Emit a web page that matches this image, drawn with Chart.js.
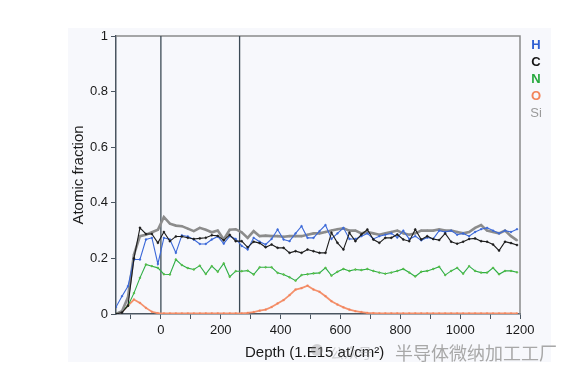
<!DOCTYPE html>
<html>
<head>
<meta charset="utf-8">
<script src="https://cdn.jsdelivr.net/npm/chart.js@4.4.1/dist/chart.umd.min.js"></script>
<style>
  html, body { margin: 0; padding: 0; background: #fff; }
  canvas { display: block; }
</style>
</head>
<body>
<canvas id="depthChart" width="564" height="376"></canvas>
<script>
// depth points (1.E15 at/cm2)
const depths = [-150, -130, -110, -90, -70, -50, -30, -10, 10, 30, 50, 70, 90, 110, 130, 150, 170, 190, 210, 230,
    250, 270, 290, 310, 330, 350, 370, 390, 410, 430, 450, 470, 490, 510, 530, 550, 570, 590, 610, 630,
    650, 670, 690, 710, 730, 750, 770, 790, 810, 830, 850, 870, 890, 910, 930, 950, 970, 990, 1010, 1030,
    1050, 1070, 1090, 1110, 1130, 1150, 1170, 1190];

const hData = [0.025, 0.064, 0.1, 0.196, 0.196, 0.268, 0.274, 0.18, 0.274, 0.268, 0.22, 0.283, 0.279, 0.268, 0.252, 0.252, 0.268, 0.279, 0.253, 0.28,
    0.27, 0.245, 0.232, 0.274, 0.26, 0.25, 0.27, 0.304, 0.268, 0.262, 0.29, 0.316, 0.274, 0.274, 0.298, 0.32, 0.27, 0.29, 0.31, 0.27,
    0.27, 0.28, 0.29, 0.27, 0.28, 0.285, 0.29, 0.275, 0.3, 0.27, 0.28, 0.265, 0.275, 0.27, 0.3, 0.295, 0.3, 0.285, 0.29, 0.28,
    0.295, 0.305, 0.31, 0.3, 0.29, 0.3, 0.295, 0.305];

const cData = [0, 0.005, 0.03, 0.2, 0.31, 0.288, 0.288, 0.256, 0.295, 0.262, 0.279, 0.279, 0.274, 0.27, 0.272, 0.274, 0.283, 0.281, 0.265, 0.285,
    0.262, 0.262, 0.24, 0.26, 0.255, 0.24, 0.25, 0.238, 0.238, 0.22, 0.226, 0.22, 0.232, 0.226, 0.22, 0.22, 0.292, 0.256, 0.232, 0.292,
    0.262, 0.286, 0.304, 0.268, 0.256, 0.274, 0.274, 0.286, 0.268, 0.262, 0.304, 0.268, 0.28, 0.27, 0.266, 0.29, 0.26, 0.253, 0.26, 0.27,
    0.272, 0.262, 0.26, 0.25, 0.228, 0.26, 0.255, 0.248];

const nData = [0.002, 0.01, 0.03, 0.075, 0.13, 0.178, 0.172, 0.166, 0.143, 0.142, 0.196, 0.176, 0.165, 0.16, 0.174, 0.144, 0.172, 0.152, 0.182, 0.134,
    0.154, 0.154, 0.156, 0.142, 0.168, 0.168, 0.168, 0.148, 0.142, 0.132, 0.12, 0.14, 0.143, 0.146, 0.148, 0.166, 0.138, 0.152, 0.162, 0.155,
    0.16, 0.158, 0.162, 0.155, 0.149, 0.145, 0.149, 0.155, 0.162, 0.149, 0.135, 0.152, 0.155, 0.162, 0.17, 0.14, 0.155, 0.166, 0.145, 0.172,
    0.155, 0.149, 0.149, 0.166, 0.143, 0.155, 0.155, 0.15];

const oData = [0, 0.008, 0.03, 0.052, 0.04, 0.022, 0.008, 0.003, 0.002, 0.002, 0.002, 0.002, 0.002, 0.002, 0.002, 0.002, 0.002, 0.002, 0.002, 0.002,
    0.002, 0.002, 0.004, 0.007, 0.012, 0.016, 0.025, 0.038, 0.05, 0.068, 0.088, 0.093, 0.102, 0.088, 0.08, 0.064, 0.046, 0.034, 0.024, 0.016,
    0.01, 0.007, 0.004, 0.003, 0.002, 0.002, 0.002, 0.002, 0.002, 0.002, 0.002, 0.002, 0.002, 0.002, 0.002, 0.002, 0.002, 0.002, 0.002, 0.002,
    0.002, 0.002, 0.002, 0.002, 0.002, 0.002, 0.002, 0.002];

const siData = [0, 0.01, 0.06, 0.214, 0.28, 0.285, 0.294, 0.303, 0.349, 0.325, 0.318, 0.316, 0.307, 0.298, 0.31, 0.303, 0.294, 0.3, 0.268, 0.303,
    0.305, 0.294, 0.274, 0.298, 0.28, 0.282, 0.28, 0.28, 0.278, 0.28, 0.28, 0.28, 0.285, 0.29, 0.29, 0.295, 0.3, 0.305, 0.308, 0.3,
    0.3, 0.29, 0.295, 0.29, 0.285, 0.29, 0.295, 0.3, 0.29, 0.285, 0.29, 0.3, 0.3, 0.3, 0.305, 0.3, 0.3, 0.295, 0.29, 0.295,
    0.31, 0.32, 0.3, 0.295, 0.29, 0.3, 0.28, 0.265];

const xTicks = [-100, 0, 100, 200, 300, 400, 500, 600, 700, 800, 900, 1000, 1100, 1200];
const boundaryDepths = [0, 263];

const legendItems = [
    { text: 'H', color: '#2f5fd2', bold: true },
    { text: 'C', color: '#151515', bold: true },
    { text: 'N', color: '#25a83c', bold: true },
    { text: 'O', color: '#f2845a', bold: true },
    { text: 'Si', color: '#9a9a9a', bold: false }
];

const FONT = '"Liberation Sans", Arial, sans-serif';

function series(values) {
    return depths.map((d, i) => ({ x: d, y: values[i] }));
}

const decor = {
    id: 'decor',
    beforeDraw(chart) {
        const c = chart.ctx;
        c.save();
        c.fillStyle = '#f7f8fc';
        c.fillRect(68, 28, 483, 334);
        c.restore();
    },
    beforeDatasetsDraw(chart) {
        const c = chart.ctx;
        const area = chart.chartArea;
        c.save();
        c.strokeStyle = '#8a8a8a';
        c.lineWidth = 1.5;
        c.beginPath();
        c.moveTo(area.left, area.top);
        c.lineTo(area.right, area.top);
        c.lineTo(area.right, area.bottom);
        c.stroke();
        c.strokeStyle = '#3c4a55';
        c.lineWidth = 1.3;
        boundaryDepths.forEach(d => {
            const x = chart.scales.x.getPixelForValue(d);
            c.beginPath();
            c.moveTo(x, area.top);
            c.lineTo(x, area.bottom);
            c.stroke();
        });
        c.restore();
    },
    afterDraw(chart) {
        const c = chart.ctx;
        const area = chart.chartArea;
        c.save();
        // y title
        c.fillStyle = '#1a1a1a';
        c.font = '15px ' + FONT;
        c.textAlign = 'center';
        c.textBaseline = 'middle';
        c.translate(79, (area.top + area.bottom) / 2);
        c.rotate(-Math.PI / 2);
        c.fillText('Atomic fraction', 0, 0);
        c.restore();

        c.save();
        c.fillStyle = '#1a1a1a';
        c.font = '15px ' + FONT;
        c.textAlign = 'left';
        c.textBaseline = 'middle';
        c.fillText('Depth (1.E15 at/cm²)', 245, 353);
        // watermark
        c.fillStyle = '#a8a8a8';
        c.font = '18px "Noto Sans CJK SC", sans-serif';
        c.fillText('半导体微纳加工工厂', 395, 353);
        c.globalAlpha = 0.35;
        c.fillStyle = '#888';
        c.beginPath();
        c.arc(317, 350, 6, 0, Math.PI * 2);
        c.fill();
        c.font = '14px "Noto Sans CJK SC", sans-serif';
        c.fillText('公众号', 330, 353);
        c.globalAlpha = 1;

        // legend letters
        c.textAlign = 'center';
        legendItems.forEach((item, i) => {
            c.fillStyle = item.color;
            c.font = (item.bold ? 'bold ' : '') + '13px ' + FONT;
            c.fillText(item.text, 536, 45 + i * 17);
        });
        c.restore();
    }
};

const config = {
    type: 'line',
    data: {
        datasets: [
            { label: 'H', data: series(hData), borderColor: '#3b68d8', backgroundColor: '#3b68d8', borderWidth: 1.1, pointRadius: 0.9, pointBorderWidth: 0.5, order: 1 },
            { label: 'C', data: series(cData), borderColor: '#1c1c1c', backgroundColor: '#1c1c1c', borderWidth: 1.1, pointRadius: 1, pointBorderWidth: 0.5, order: 0 },
            { label: 'N', data: series(nData), borderColor: '#2eae45', backgroundColor: '#7cc83a', borderWidth: 1.1, pointRadius: 0.9, pointBorderWidth: 0.5, order: 3 },
            { label: 'O', data: series(oData), borderColor: '#f4916c', backgroundColor: '#f07a50', borderWidth: 1.8, pointRadius: 1.1, pointBorderWidth: 0.5, pointStyle: 'rect', order: 4 },
            { label: 'Si', data: series(siData), borderColor: '#8c8c8c', backgroundColor: '#8c8c8c', borderWidth: 2.6, pointRadius: 0.8, pointBorderWidth: 0.5, order: 2 }
        ]
    },
    options: {
        responsive: false,
        animation: false,
        devicePixelRatio: 1,
        layout: { padding: { top: 36, right: 44, left: 0, bottom: 0 } },
        plugins: { legend: { display: false }, tooltip: { enabled: false } },
        scales: {
            x: {
                type: 'linear',
                min: -150,
                max: 1200,
                afterBuildTicks: scale => { scale.ticks = xTicks.map(v => ({ value: v })); },
                afterFit: scale => { scale.height = 62; },
                ticks: {
                    autoSkip: false,
                    maxRotation: 0,
                    padding: 4,
                    color: '#1a1a1a',
                    font: { family: FONT, size: 13 },
                    callback: v => (v >= 0 && v % 200 === 0 ? String(v) : '')
                },
                grid: { drawOnChartArea: false, tickLength: 5, color: '#4a5560', tickWidth: 1 },
                border: { color: '#4a5560', width: 1.5 }
            },
            y: {
                min: 0,
                max: 1,
                afterFit: scale => { scale.width = 116; },
                ticks: {
                    stepSize: 0.2,
                    padding: 3,
                    color: '#1a1a1a',
                    font: { family: FONT, size: 13 },
                    callback: v => String(Math.round(v * 10) / 10)
                },
                grid: { drawOnChartArea: false, tickLength: 5, color: '#4a5560', tickWidth: 1 },
                border: { color: '#4a5560', width: 1.5 }
            }
        }
    },
    plugins: [decor]
};

const ctx = document.getElementById('depthChart').getContext('2d');
const depthChart = new Chart(ctx, config);
</script>
</body>
</html>
